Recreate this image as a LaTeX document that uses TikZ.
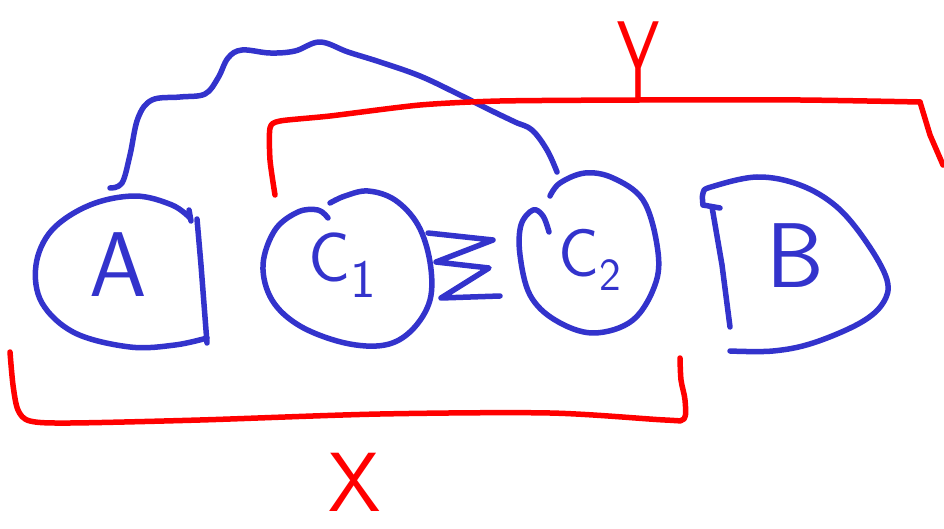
\documentclass[tikz,border=0pt]{standalone}
\usepackage{fontspec}
\definecolor{inkblue}{RGB}{51,51,204}
\definecolor{inkred}{RGB}{255,0,0}
\begin{document}
\begin{tikzpicture}[x=1pt,y=-1pt,
  blueink/.style={draw=inkblue,line width=5.5pt,line cap=round,line join=round},
  redink/.style={draw=inkred,line width=5.5pt,line cap=round,line join=round},
  bluelbl/.style={inner sep=0pt,text=inkblue,font=\sffamily},
  redlbl/.style={inner sep=0pt,text=inkred,font=\sffamily}]
\useasboundingbox[fill=white] (0,0) rectangle (944,529);

% labels
\node[bluelbl] (A) at (118,265) {\fontsize{92}{92}\selectfont A};
\node[bluelbl] (C1) at (342,265) {\fontsize{70}{70}\selectfont C\raisebox{-16pt}{\fontsize{54}{54}\selectfont 1}};
\node[bluelbl] (C2) at (590,260) {\fontsize{68}{68}\selectfont C\raisebox{-14pt}{\fontsize{46}{46}\selectfont 2}};
\node[bluelbl] (B) at (795,256) {\fontsize{92}{92}\selectfont B};
\node[redlbl,xscale=0.6,anchor=base] (Y) at (638,100) {\fontsize{112}{112}\selectfont Y};
\node[redlbl] (X) at (355,482) {\fontsize{84}{84}\selectfont X};

% named ends of the connectors
\coordinate (aTop) at (110,188);
\coordinate (c2Top) at (557,172);
\coordinate (yLeft) at (275,195);
\coordinate (yRight) at (943,165);
\coordinate (xLeft) at (10,352);
\coordinate (xRight) at (680,358);

% blob A
\draw[blueink] plot[smooth,tension=0.6] coordinates {(190,218) (172,205) (135,196) (90,205) (52,230) (36,265) (42,303) (75,333) (130,347) (175,345) (207,338)};
\draw[blueink] (197,219) -- (201,265) -- (207,343);
\draw[blueink] (189,210) -- (191,221);

% blob C1
\draw[blueink] plot[smooth,tension=0.6] coordinates {(330,203) (345,196) (368,191) (395,200) (418,225) (430,262) (430,300) (412,330) (385,345) (345,343) (300,326) (272,300) (263,265) (275,230) (298,212) (318,210) (328,218)};

% blob C2
\draw[blueink] plot[smooth,tension=0.6] coordinates {(550,196) (560,183) (585,173) (613,178) (643,200) (657,245) (656,282) (633,320) (593,333) (555,320) (530,295) (520,255) (521,225) (533,210) (543,216) (549,232)};

% zigzag between C1 and C2
\draw[blueink] (428,233) -- (493,240) -- (436,262) -- (489,268) -- (441,298) -- (500,296);

% blob B
\draw[blueink] plot[smooth,tension=0.6] coordinates {(703,205) (703,193) (711,187) (757,177) (800,185) (837,207) (867,243) (887,280) (883,303) (860,323) (813,343) (773,351) (730,351)};
\draw[blueink] (703,205) -- (720,208);
\draw[blueink] (712,207) -- (722,265) -- (730,327);

% blue connector from A to C2
\draw[blueink] plot[smooth,tension=0.6] coordinates {(aTop) (122,183) (130,155) (138,118) (152,100) (180,97) (205,94) (218,78) (228,58) (242,50) (270,53) (295,51) (320,42) (348,52) (380,62) (420,76) (458,94) (490,110) (515,122) (532,130) (547,150) (c2Top)};

% red Y bracket
\draw[redink] plot[smooth,tension=0.4] coordinates {(yLeft) (270,160) (270,128) (280,121) (330,116) (420,105) (500,101) (640,100) (800,100) (920,102)};
\draw[redink] (920,102) -- (930,135) -- (yRight);

% red X bracket
\draw[redink] plot[smooth,tension=0.5] coordinates {(xLeft) (13,385) (18,410) (30,421) (70,423) (200,420) (380,414) (550,413) (665,420) (684,419) (685,400) (681,380) (xRight)};

\end{tikzpicture}
\end{document}
